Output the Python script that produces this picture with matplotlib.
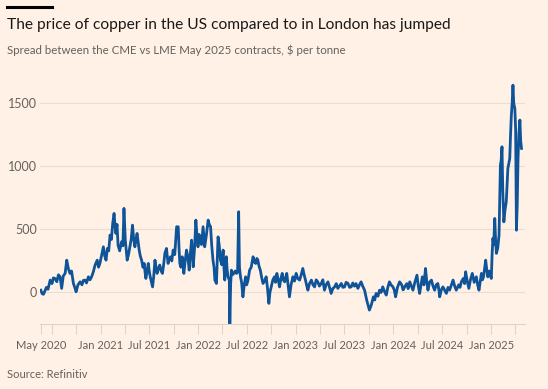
import matplotlib
matplotlib.use("Agg")
import matplotlib.pyplot as plt
import pandas as pd

# CME - LME copper spread, $ per tonne
dates = [
    # 2020
    "2020-05-22", "2020-05-27", "2020-06-01", "2020-06-06", "2020-06-12", "2020-06-18",
    "2020-06-26", "2020-07-03", "2020-07-08", "2020-07-14", "2020-07-21", "2020-07-27",
    "2020-08-02", "2020-08-08", "2020-08-14", "2020-08-21", "2020-08-27", "2020-09-02",
    "2020-09-08", "2020-09-14", "2020-09-21", "2020-09-26", "2020-10-01", "2020-10-08",
    "2020-10-16", "2020-10-23", "2020-10-28", "2020-11-03", "2020-11-09", "2020-11-16",
    "2020-11-22", "2020-11-28", "2020-12-04", "2020-12-11", "2020-12-19", "2020-12-24",
    "2020-12-29",
    # 2021
    "2021-01-05", "2021-01-11", "2021-01-16", "2021-01-21", "2021-01-26", "2021-01-31",
    "2021-02-05", "2021-02-10", "2021-02-15", "2021-02-20", "2021-02-24", "2021-02-27",
    "2021-03-03", "2021-03-07", "2021-03-13", "2021-03-20", "2021-03-25", "2021-03-29",
    "2021-04-03", "2021-04-07", "2021-04-10", "2021-04-15", "2021-04-20", "2021-04-25",
    "2021-04-30", "2021-05-04", "2021-05-09", "2021-05-13", "2021-05-17", "2021-05-21",
    "2021-05-25", "2021-05-29", "2021-06-03", "2021-06-08", "2021-06-13", "2021-06-16",
    "2021-06-19", "2021-06-24", "2021-06-28", "2021-07-01", "2021-07-04", "2021-07-09",
    "2021-07-14", "2021-07-18", "2021-07-23", "2021-07-27", "2021-07-31", "2021-08-05",
    "2021-08-10", "2021-08-15", "2021-08-20", "2021-08-25", "2021-08-29", "2021-09-04",
    "2021-09-10", "2021-09-14", "2021-09-19", "2021-09-24", "2021-09-29", "2021-10-05",
    "2021-10-12", "2021-10-18", "2021-10-21", "2021-10-24", "2021-10-28", "2021-11-02",
    "2021-11-05", "2021-11-08", "2021-11-13", "2021-11-18", "2021-11-23", "2021-11-28",
    "2021-12-02", "2021-12-07", "2021-12-10", "2021-12-13", "2021-12-18", "2021-12-23",
    "2021-12-27", "2021-12-31",
    # 2022
    "2022-01-04", "2022-01-07", "2022-01-13", "2022-01-19", "2022-01-25", "2022-01-31",
    "2022-02-07", "2022-02-11", "2022-02-16", "2022-02-20", "2022-02-25", "2022-03-01",
    "2022-03-04", "2022-03-10", "2022-03-16", "2022-03-20", "2022-03-25", "2022-03-30",
    "2022-04-04", "2022-04-07", "2022-04-10", "2022-04-13", "2022-04-16", "2022-04-19",
    "2022-04-22", "2022-04-27", "2022-04-29", "2022-05-02", "2022-05-05", "2022-05-09",
    "2022-05-14", "2022-05-19", "2022-05-24", "2022-05-28", "2022-06-01", "2022-06-04",
    "2022-06-08", "2022-06-12", "2022-06-17", "2022-06-22", "2022-06-27", "2022-07-01",
    "2022-07-06", "2022-07-12", "2022-07-18", "2022-07-25", "2022-07-30", "2022-08-04",
    "2022-08-08", "2022-08-12", "2022-08-16", "2022-08-21", "2022-08-26", "2022-08-31",
    "2022-09-06", "2022-09-12", "2022-09-17", "2022-09-22", "2022-09-26", "2022-10-01",
    "2022-10-07", "2022-10-13", "2022-10-17", "2022-10-22", "2022-10-27", "2022-11-01",
    "2022-11-06", "2022-11-11", "2022-11-15", "2022-11-20", "2022-11-24", "2022-11-28",
    "2022-12-03", "2022-12-08", "2022-12-14", "2022-12-21", "2022-12-27",
    # 2023
    "2023-01-02", "2023-01-08", "2023-01-15", "2023-01-21", "2023-01-27", "2023-02-01",
    "2023-02-06", "2023-02-10", "2023-02-15", "2023-02-21", "2023-02-28", "2023-03-06",
    "2023-03-12", "2023-03-18", "2023-03-24", "2023-03-30", "2023-04-06", "2023-04-12",
    "2023-04-18", "2023-04-24", "2023-05-01", "2023-05-07", "2023-05-13", "2023-05-19",
    "2023-05-26", "2023-06-01", "2023-06-07", "2023-06-13", "2023-06-20", "2023-06-26",
    "2023-07-02", "2023-07-08", "2023-07-15", "2023-07-21", "2023-07-27", "2023-08-02",
    "2023-08-08", "2023-08-14", "2023-08-21", "2023-08-27", "2023-09-02", "2023-09-08",
    "2023-09-15", "2023-09-23", "2023-09-28", "2023-10-03", "2023-10-10", "2023-10-18",
    "2023-10-23", "2023-10-28", "2023-11-04", "2023-11-10", "2023-11-16", "2023-11-22",
    "2023-11-28", "2023-12-05", "2023-12-11", "2023-12-17", "2023-12-23", "2023-12-30",
    # 2024
    "2024-01-04", "2024-01-09", "2024-01-16", "2024-01-24", "2024-02-01", "2024-02-06",
    "2024-02-12", "2024-02-20", "2024-02-25", "2024-03-02", "2024-03-08", "2024-03-14",
    "2024-03-21", "2024-03-29", "2024-04-03", "2024-04-08", "2024-04-13", "2024-04-18",
    "2024-04-24", "2024-04-30", "2024-05-04", "2024-05-09", "2024-05-15", "2024-05-22",
    "2024-05-28", "2024-06-03", "2024-06-09", "2024-06-15", "2024-06-19", "2024-06-22",
    "2024-06-28", "2024-07-04", "2024-07-10", "2024-07-17", "2024-07-23", "2024-07-29",
    "2024-08-05", "2024-08-11", "2024-08-17", "2024-08-23", "2024-09-01", "2024-09-06",
    "2024-09-11", "2024-09-18", "2024-09-23", "2024-09-27", "2024-10-03", "2024-10-09",
    "2024-10-15", "2024-10-22", "2024-10-29", "2024-11-06", "2024-11-11", "2024-11-16",
    "2024-11-21", "2024-11-25", "2024-11-29", "2024-12-03", "2024-12-07", "2024-12-11",
    "2024-12-15", "2024-12-19", "2024-12-24", "2024-12-28",
    # 2025
    "2025-01-01", "2025-01-04", "2025-01-07", "2025-01-10", "2025-01-14", "2025-01-17",
    "2025-01-20", "2025-01-25", "2025-01-30", "2025-02-04", "2025-02-07", "2025-02-10",
    "2025-02-13", "2025-02-17", "2025-02-21", "2025-02-26", "2025-03-01", "2025-03-04",
    "2025-03-07", "2025-03-11", "2025-03-14", "2025-03-17", "2025-03-20", "2025-03-23",
    "2025-03-26", "2025-03-30", "2025-04-02", "2025-04-05", "2025-04-08", "2025-04-11",
    "2025-04-14", "2025-04-18", "2025-04-21", "2025-04-24",
]
spread = [
    # 2020
    18, -10, -15, 10, 40, 25,
    98, 70, 115, 111, 85, 140,
    124, 32, 130, 151, 256, 190,
    151, 170, 71, 40, 5, 60,
    84, 60, 95, 98, 75, 124,
    100, 124, 160, 217, 256, 200,
    230,
    # 2021
    300, 362, 290, 256, 349, 330,
    455, 420, 548, 627, 520, 468,
    540, 375, 330, 402, 370, 667,
    415, 320, 256, 300, 362, 420,
    534, 430, 362, 420, 468, 400,
    336, 290, 256, 200, 230, 160,
    111, 180, 230, 180, 137, 90,
    44, 120, 256, 200, 151, 190,
    217, 170, 151, 230, 310, 349,
    230, 260, 283, 250, 336, 300,
    521, 521, 350, 230, 200, 283,
    220, 151, 250, 336, 280, 177,
    300, 415, 300, 203, 350, 574,
    450, 362,
    # 2022
    460, 429, 380, 521, 362, 450,
    574, 540, 521, 380, 256, 200,
    98, 71, 441, 380, 256, 220,
    336, 200, 98, 200, 283, 180,
    124, 100, -260, 60, 177, 140,
    151, 170, 151, 160, 640, 200,
    124, 80, -35, 60, 124, 60,
    98, 177, 200, 283, 240, 230,
    270, 256, 210, 177, 120, 71,
    90, 124, 30, -87, 0, 44,
    100, 124, 80, 151, 100, 44,
    110, 151, 100, 84, 120, 151,
    60, -35, 60, 124, 90,
    # 2023
    151, 110, 98, 140, 190, 140,
    98, 60, 18, 70, 98, 60,
    44, 100, 84, 50, 71, 100,
    18, 60, 84, 40, -8, 30,
    44, 70, 32, 50, 71, 40,
    44, 80, 71, 40, 44, 75,
    50, 70, 32, 60, 84, 50,
    18, -61, -100, -140, -101, -35,
    -60, -8, -30, 18, 0, 44,
    10, -21, 40, 84, 60, 44,
    # 2024
    20, -35, 40, 84, 60, 20,
    44, 70, 30, 84, 50, 18,
    80, 137, 50, -8, 60, 124,
    60, 190, 100, 18, 80, 98,
    50, 18, 60, 71, 20, -35,
    20, 44, 20, -8, 40, 18,
    60, 98, 50, 18, 60, 40,
    84, 110, 70, 164, 90, 32,
    100, 151, 80, 124, 60, 18,
    90, 151, 100, 124, 190, 256,
    180, 124, 170, 137,
    # 2025
    111, 300, 429, 380, 587, 420,
    310, 350, 455, 1010, 1050, 1156,
    800, 560, 650, 719, 850, 984,
    1020, 1063, 1250, 1407, 1500, 1645,
    1500, 1460, 1300, 494, 700, 1063,
    1250, 1368, 1200, 1143,
]

y_ticks = [0, 500, 1000, 1500]
x_labels = ["May 2020", "Jan 2021", "Jul 2021", "Jan 2022", "Jul 2022", "Jan 2023",
            "Jul 2023", "Jan 2024", "Jul 2024", "Jan 2025"]
x_label_dates = ["2020-05-22", "2021-01-01", "2021-07-01", "2022-01-01", "2022-07-01",
                 "2023-01-01", "2023-07-01", "2024-01-01", "2024-07-01", "2025-01-01"]

bg = "#FFF1E5"
grey = "#66605C"
grid_col = "#EADDD2"

plt.rcParams["font.family"] = ["Lato", "DejaVu Sans"]

df = pd.DataFrame({"date": pd.to_datetime(dates), "spread": spread})

fig = plt.figure(figsize=(5.48, 3.89), dpi=100, facecolor=bg)
ax = fig.add_axes([0.073, 0.166, 0.885, 0.641], facecolor=bg)

ax.plot(df["date"], df["spread"], color="#0F5499", lw=2.0, solid_joinstyle="round")

ax.set_ylim(-254, 1725)
ax.set_xlim(pd.Timestamp("2020-05-19"), pd.Timestamp("2025-05-07"))

ax.set_yticks(y_ticks)
ax.set_yticklabels([str(v) for v in y_ticks])
ax.tick_params(axis="y", length=0, pad=2, labelsize=9, labelcolor=grey)
ax.grid(axis="y", color=grid_col, lw=0.8)
ax.set_axisbelow(True)

ax.set_xticks(pd.to_datetime(x_label_dates))
ax.set_xticklabels(x_labels)
quarter_ticks = pd.date_range("2020-07-01", "2025-04-01", freq="QS")
ax.set_xticks(quarter_ticks, minor=True)
ax.tick_params(axis="x", which="both", length=7, color="#E0D3C8", width=0.8)
ax.tick_params(axis="x", which="major", labelsize=8, labelcolor=grey, pad=4)

for s in ["top", "right", "left"]:
    ax.spines[s].set_visible(False)
ax.spines["bottom"].set_color("#E0D3C8")
ax.spines["bottom"].set_linewidth(0.8)

# header
fig.add_artist(plt.Line2D([0.0135, 0.094], [0.982, 0.982], color="black", lw=2.2,
                          transform=fig.transFigure))
fig.text(0.0135, 0.935, "The price of copper in the US compared to in London has jumped",
         fontsize=11.2, color="#1A1817", va="center", ha="left")
fig.text(0.0135, 0.87, "Spread between the CME vs LME May 2025 contracts, $ per tonne",
         fontsize=8.25, color=grey, va="center", ha="left")
fig.text(0.0135, 0.036, "Source: Refinitiv", fontsize=8, color=grey, va="center", ha="left")

fig.savefig("out.png", dpi=100, facecolor=bg)
